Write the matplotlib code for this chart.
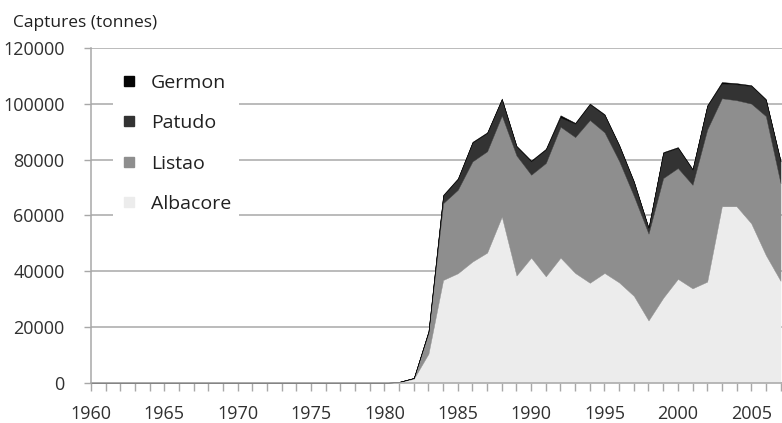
import numpy as np
import matplotlib
matplotlib.use('Agg')
import matplotlib.pyplot as plt
from matplotlib.ticker import MultipleLocator
from matplotlib.lines import Line2D

plt.rcParams['font.family'] = ['Open Sans', 'DejaVu Sans']

# catches by species, tonnes, 1960-2007
years = np.arange(1960, 2008)
pre = [0] * 21   # 1960-1980

albacore = pre + [300, 1500, 10500, 36900, 39300, 43500, 46700, 59600, 38500, 44900,
                  38200, 44900, 39400, 35900, 39400, 36000, 31200, 22400, 30500, 37300,
                  33900, 36300, 63300, 63300, 57200, 45800, 36600]
listao = pre + [100, 300, 7500, 27500, 29900, 35900, 36300, 36200, 43000, 29700,
                40600, 46900, 48700, 58300, 50400, 43500, 35800, 31100, 42900, 39700,
                37100, 54500, 38700, 38000, 42900, 49800, 35000]
patudo = pre + [0, 0, 500, 2700, 3800, 6700, 6500, 5800, 3200, 4800,
                4800, 3300, 4800, 5600, 6200, 5500, 5000, 2000, 9000, 7200,
                5400, 8400, 5300, 5700, 6300, 5800, 7800]
germon = pre + [0, 0, 100, 300, 300, 300, 300, 300, 300, 300,
                300, 800, 300, 300, 300, 300, 300, 200, 300, 300,
                300, 300, 500, 400, 300, 300, 300]

names = ['Albacore', 'Listao', 'Patudo', 'Germon']
colors = ['#ececec', '#8e8e8e', '#333333', '#050505']

fig = plt.figure(figsize=(7.82, 4.23), dpi=100)
ax = fig.add_axes([0.1164, 0.0946, 1 - 0.1164, 0.7919])

ax.stackplot(years, albacore, listao, patudo, germon, colors=colors,
             linewidth=0.3, edgecolor='face', zorder=2)

ax.set_xlim(1960, 2007.1)
ax.set_ylim(0, 120000)

ax.yaxis.set_major_locator(MultipleLocator(20000))
ax.xaxis.set_major_locator(MultipleLocator(5))
ax.xaxis.set_minor_locator(MultipleLocator(1))
ax.grid(axis='y', color='#a8a8a8', lw=1.1, zorder=0)
ax.set_axisbelow(True)

for s in ['top', 'right']:
    ax.spines[s].set_visible(False)
for s in ['left', 'bottom']:
    ax.spines[s].set_color('#a8a8a8')
    ax.spines[s].set_linewidth(1.1)

ax.tick_params(axis='x', which='both', length=6, color='#a8a8a8', width=1,
               labelsize=13, labelcolor='#303030', pad=10)
ax.tick_params(axis='y', length=5, color='#a8a8a8', width=1,
               labelsize=13, labelcolor='#303030', pad=14)

fig.text(0.016, 0.945, 'Captures (tonnes)', fontsize=12.5, color='#202020',
         ha='left', va='center')

handles = [Line2D([], [], ls='none', marker='s', markersize=7.5,
                  markerfacecolor=c, markeredgecolor=c)
           for c in colors[::-1]]
leg = ax.legend(handles, names[::-1], loc='upper left',
                bbox_to_anchor=(0.018, 0.975), fontsize=14, frameon=True,
                labelspacing=1.15, handlelength=0.8, handletextpad=0.75,
                borderpad=0.4)
leg.get_frame().set_facecolor('white')
leg.get_frame().set_edgecolor('none')
leg.get_frame().set_alpha(1)
for t in leg.get_texts():
    t.set_color('#202020')

fig.savefig('out.png', dpi=100)
